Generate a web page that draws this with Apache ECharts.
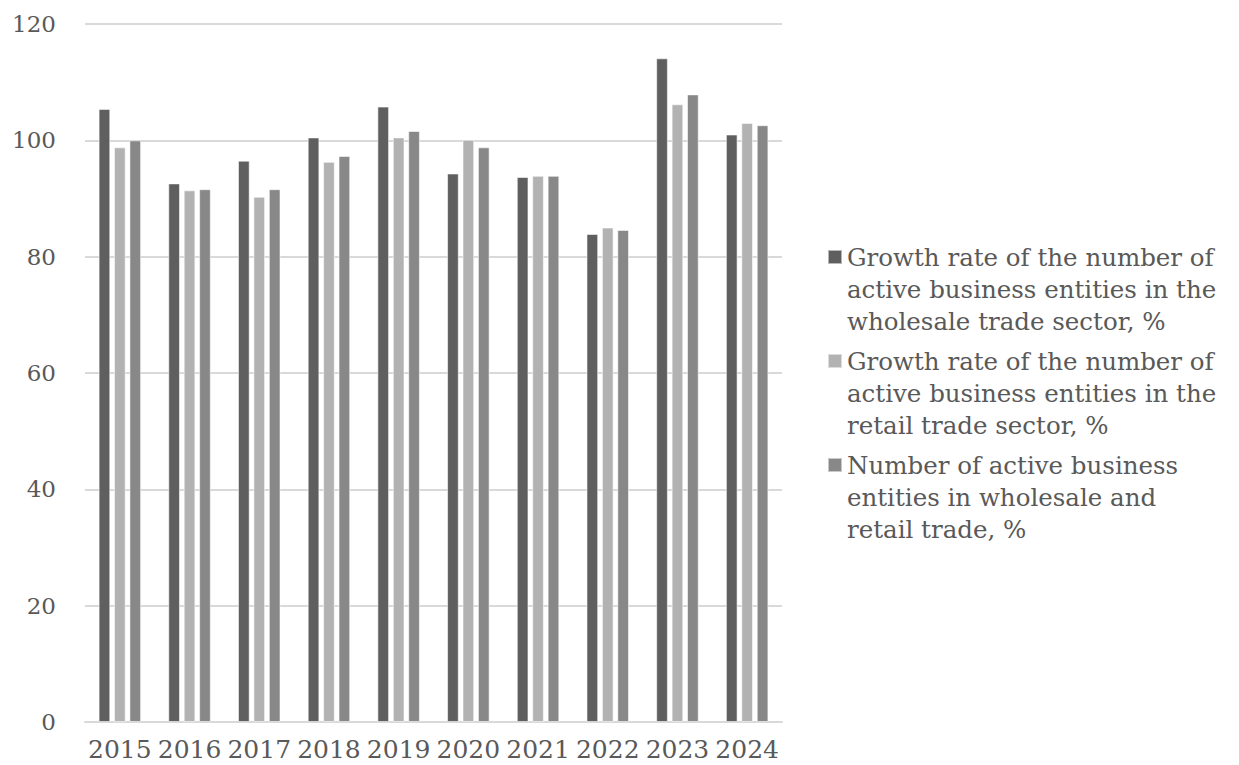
<!DOCTYPE html>
<html>
<head>
<meta charset="utf-8">
<script src="https://cdn.jsdelivr.net/npm/echarts@6/dist/echarts.min.js"></script>
<style>
  html, body { margin: 0; padding: 0; background: #fff; }
  #chart { width: 1239px; height: 765px; }
</style>
</head>
<body>
<div id="chart"></div>
<script>
// 年份
var years = ['2015', '2016', '2017', '2018', '2019', '2020', '2021', '2022', '2023', '2024'];
// 批发业增长率
var wholesale = [105.4, 92.6, 96.5, 100.5, 105.8, 94.3, 93.7, 83.9, 114.1, 101.0];
// 零售业增长率
var retail = [98.8, 91.4, 90.3, 96.3, 100.5, 100.1, 93.9, 85.0, 106.2, 103.0];
// 批发和零售合计
var total = [100.0, 91.6, 91.6, 97.3, 101.6, 98.8, 93.9, 84.6, 107.9, 102.6];
var yTicks = [0, 20, 40, 60, 80, 100, 120];

var seriesNames = [
    'Growth rate of the number of\nactive business entities in the\nwholesale trade sector, %',
    'Growth rate of the number of\nactive business entities in the\nretail trade sector, %',
    'Number of active business\nentities in wholesale and\nretail trade, %'
];
var seriesColors = ['#5f5f5f', '#b2b2b2', '#888888'];
var seriesData = [wholesale, retail, total];

var font = '"DejaVu Serif", "Liberation Serif", serif';
// 图例图标：方块放在第一行的高度，上下两个极小的点撑开包围盒
var legendIcon = 'path://M0,0h0.01v0.01h-0.01z M0,9h14v14h-14z M0,96h0.01v0.01h-0.01z';

var chart = echarts.init(document.getElementById('chart'), null, { renderer: 'svg' });

var option = {
    animation: false,
    backgroundColor: '#ffffff',
    grid: {
        left: 85,
        right: 457,
        top: 24,
        bottom: 43,
        outerBoundsMode: 'none'
    },
    legend: {
        orient: 'vertical',
        left: 827,
        top: 240,
        padding: 0,
        itemGap: 6,
        itemWidth: 14,
        itemHeight: 96,
        icon: legendIcon,
        selectedMode: false,
        data: seriesNames,
        textStyle: {
            fontFamily: font,
            fontSize: 24.5,
            lineHeight: 32,
            color: '#595959'
        }
    },
    xAxis: {
        type: 'category',
        data: years,
        axisLine: { show: true, lineStyle: { color: '#d9d9d9', width: 2 } },
        axisTick: { show: false },
        axisLabel: {
            interval: 0,
            fontFamily: font,
            fontSize: 25,
            color: '#595959',
            margin: 15
        }
    },
    yAxis: {
        type: 'value',
        min: yTicks[0],
        max: yTicks[yTicks.length - 1],
        interval: 20,
        axisLine: { show: false },
        axisTick: { show: false },
        splitLine: { lineStyle: { color: '#d9d9d9', width: 2 } },
        axisLabel: {
            fontFamily: font,
            fontSize: 23,
            color: '#595959',
            margin: 29
        }
    },
    series: seriesNames.map(function (name, i) {
        return {
            name: name,
            type: 'bar',
            data: seriesData[i],
            barGap: '32%',
            barCategoryGap: '39%',
            itemStyle: {
                color: seriesColors[i],
                borderColor: 'rgba(255,255,255,0.55)',
                borderWidth: 1
            }
        };
    })
};

chart.setOption(option);
</script>
</body>
</html>
